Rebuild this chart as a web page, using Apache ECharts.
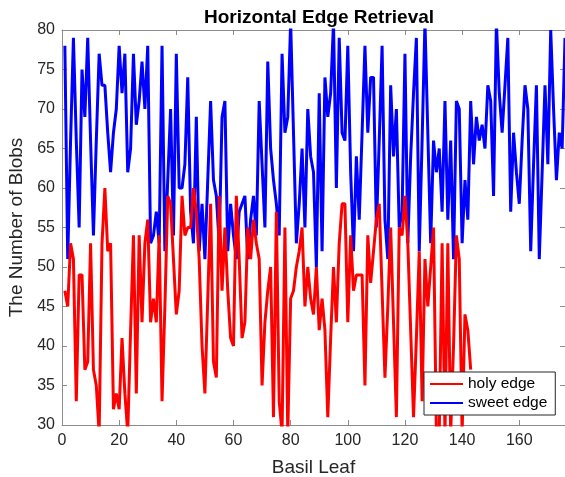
<!DOCTYPE html>
<html>
<head>
<meta charset="utf-8">
<script src="https://cdn.jsdelivr.net/npm/echarts@6/dist/echarts.min.js"></script>
<style>
  html, body { margin: 0; padding: 0; background: #fff; }
  #main { width: 565px; height: 477px; }
</style>
</head>
<body>
<div id="main"></div>
<script>
// chart text
const titleText = 'Horizontal Edge Retrieval';
const xName = 'Basil Leaf';
const yName = 'The Number of Blobs';
const seriesNames = ['holy edge', 'sweet edge'];

// holy edge, leaf 1..143
const holyEdge = [
  47, 45, 53, 51, 33, 49, 49, 37, 38, 53, 37, 35, 29, 53, 60, 52, 53, 32, 34, 32,
  41, 34, 29, 42, 54, 34, 54, 43, 53, 56, 43, 46, 43, 54, 33, 45, 59, 58, 51, 44,
  47, 59, 54, 55, 55, 60, 57, 51, 40, 34, 46, 58, 38, 36, 59, 47, 55, 47, 41, 40,
  59, 51, 41, 43, 55, 51, 56, 53, 51, 35, 43, 47, 50, 31, 57, 33, 29, 55, 29, 46,
  47, 50, 52, 55, 45, 50, 46, 44, 50, 42, 46, 42, 31, 41, 50, 43, 53, 58, 58, 43,
  54, 47, 49, 49, 49, 35, 54, 48, 52, 56, 58, 47, 36, 45, 55, 43, 31, 55, 54, 59,
  53, 42, 31, 41, 52, 33, 51, 45, 50, 55, 29, 29, 53, 29, 53, 29, 40, 54, 51, 29,
  44, 42, 37
];

// sweet edge, leaf 1..176
const sweetEdge = [
  78, 51, 66, 79, 66, 55, 75, 69, 79, 66, 54, 66, 77, 73, 73, 67, 62, 67, 70, 78,
  72, 77, 62, 65, 77, 68, 71, 76, 70, 78, 53, 54, 57, 53, 78, 52, 61, 70, 54, 77,
  60, 60, 63, 74, 57, 53, 69, 52, 58, 51, 61, 71, 61, 59, 53, 69, 71, 52, 58, 54,
  51, 57, 58, 59, 51, 56, 59, 54, 71, 63, 55, 76, 65, 61, 58, 54, 77, 67, 69, 81,
  67, 53, 58, 65, 55, 70, 64, 62, 50, 72, 52, 74, 69, 72, 81, 60, 79, 67, 66, 78,
  62, 52, 64, 56, 67, 78, 67, 74, 74, 55, 66, 78, 56, 51, 73, 64, 70, 55, 57, 77,
  53, 64, 72, 79, 52, 66, 81, 67, 53, 66, 62, 65, 57, 71, 56, 66, 51, 71, 70, 53,
  61, 56, 71, 63, 69, 66, 68, 65, 73, 71, 59, 81, 72, 67, 73, 79, 57, 67, 62, 58,
  66, 73, 70, 52, 63, 73, 51, 62, 73, 63, 80, 70, 61, 67, 65, 79
];

const toPairs = arr => arr.map((v, i) => [i + 1, v]);

const fontFamily = 'Liberation Sans, Arial, Helvetica, sans-serif';
const axisColor = '#262626';
const boxColor = '#8c8c8c';

const chart = echarts.init(document.getElementById('main'), null, { renderer: 'canvas' });

const xBase = {
  type: 'value',
  min: 0,
  max: 176,
  interval: 20,
  splitLine: { show: false },
  axisLine: { show: true, onZero: false, lineStyle: { color: boxColor, width: 1 } },
  axisTick: { show: true, inside: true, length: 5, lineStyle: { color: boxColor } }
};
const yBase = {
  type: 'value',
  min: 30,
  max: 80,
  interval: 5,
  splitLine: { show: false },
  axisLine: { show: true, onZero: false, lineStyle: { color: boxColor, width: 1 } },
  axisTick: { show: true, inside: true, length: 5, lineStyle: { color: boxColor } }
};

chart.setOption({
  animation: false,
  backgroundColor: '#fff',
  title: {
    text: titleText,
    left: 314,
    textAlign: 'center',
    top: 3,
    textStyle: { fontFamily, fontSize: 19, fontWeight: 'bold', color: '#000' }
  },
  grid: {
    left: 62, top: 30, width: 503, height: 395,
    containLabel: false,
    outerBoundsMode: 'none'
  },
  xAxis: [
    Object.assign({}, xBase, {
      position: 'bottom',
      name: xName,
      nameLocation: 'middle',
      nameGap: 33,
      nameTextStyle: { fontFamily, fontSize: 19, color: axisColor },
      axisLabel: {
        fontFamily, fontSize: 16, color: axisColor, margin: 8,
        showMaxLabel: false,
        formatter: v => (v % 20 === 0 ? String(v) : '')
      }
    }),
    Object.assign({}, xBase, { position: 'top', axisLabel: { show: false } })
  ],
  yAxis: [
    Object.assign({}, yBase, {
      position: 'left',
      name: yName,
      nameLocation: 'middle',
      nameGap: 30,
      nameRotate: 90,
      nameTextStyle: { fontFamily, fontSize: 19, color: axisColor },
      axisLabel: { fontFamily, fontSize: 16, color: axisColor, margin: 7 }
    }),
    Object.assign({}, yBase, { position: 'right', axisLabel: { show: false } })
  ],
  legend: {
    show: true,
    orient: 'vertical',
    left: 424,
    top: 372,
    backgroundColor: '#fff',
    borderColor: axisColor,
    borderWidth: 1,
    borderRadius: 0,
    padding: [4, 8, 4, 6],
    itemGap: 3,
    itemWidth: 33,
    itemHeight: 14,
    textStyle: { fontFamily, fontSize: 15.5, color: '#000' },
    data: seriesNames.map(n => ({ name: n, icon: 'path://M0,6 L33,6 L33,8 L0,8 Z' }))
  },
  series: [
    {
      name: seriesNames[0],
      type: 'line',
      data: toPairs(holyEdge),
      showSymbol: false,
      clip: true,
      color: '#ff0000',
      lineStyle: { color: '#ff0000', width: 3 },
      z: 3
    },
    {
      name: seriesNames[1],
      type: 'line',
      data: toPairs(sweetEdge),
      showSymbol: false,
      clip: true,
      color: '#0000ff',
      lineStyle: { color: '#0000ff', width: 3 },
      z: 2
    }
  ]
});
</script>
</body>
</html>
